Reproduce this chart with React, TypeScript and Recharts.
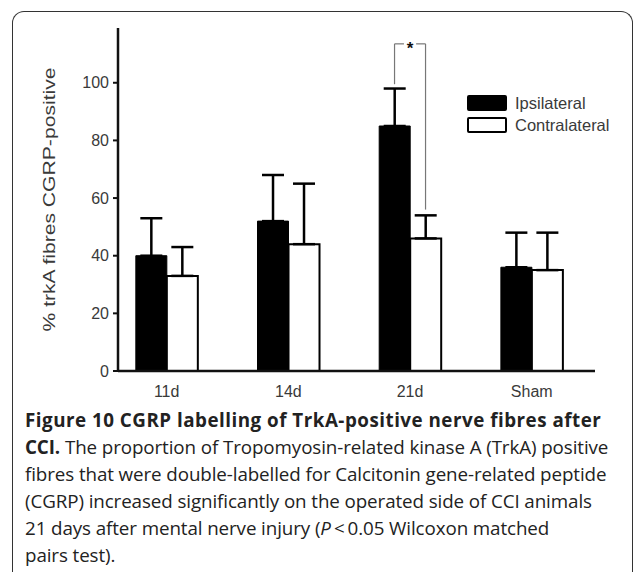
import {
  BarChart,
  Bar,
  XAxis,
  YAxis,
  ErrorBar,
  ReferenceLine,
  ReferenceDot,
} from "recharts";

const groups = ["11d", "14d", "21d", "Sham"];
const ipsilateral = [40, 52, 85, 36];
const ipsilateralErr = [13, 16, 13, 12];
const contralateral = [33, 44, 46, 35];
const contralateralErr = [10, 21, 8, 13];
const yTicks = [0, 20, 40, 60, 80, 100];

// significance bracket over the 21d pair
const sigGroup = 3;
const sigTop = 113.5;

const chartData = groups.map((group, i) => ({
  x: i + 1,
  group,
  ipsi: ipsilateral[i],
  ipsiErr: [0, ipsilateralErr[i]],
  contra: contralateral[i],
  contraErr: [0, contralateralErr[i]],
}));

const W = 635;
const H = 410;
const M = { top: 28, right: 40, bottom: 9, left: 68 };
const Y_AXIS_W = 50;
const X_MIN = 0.6;
const X_MAX = 4.52;
const BAR = 31;
const PLOT_W = W - M.left - M.right - Y_AXIS_W;
const halfBar = BAR / 2 / (PLOT_W / (X_MAX - X_MIN));

const chartFont = "'Liberation Sans', Arial, sans-serif";
const textColor = "#3a3a3a";
const bracketColor = "#777";

const legendItems = [
  { name: "Ipsilateral", bg: "#000" },
  { name: "Contralateral", bg: "#fff" },
];

const LegendBox = () => (
  <div
    style={{
      position: "absolute",
      left: 467,
      top: 92,
      fontFamily: chartFont,
      fontSize: 16.5,
      color: textColor,
      whiteSpace: "nowrap",
    }}
  >
    {legendItems.map((item) => (
      <div
        key={item.name}
        style={{ display: "flex", alignItems: "center", height: 22 }}
      >
        <span
          style={{
            display: "inline-block",
            width: 36,
            height: 12,
            background: item.bg,
            border: "2px solid #000",
            borderRadius: 2,
            marginRight: 8,
          }}
        />
        {item.name}
      </div>
    ))}
  </div>
);

const YLabel = ({ viewBox }: any) => {
  const x = 49;
  const y = viewBox.y + viewBox.height / 2;
  return (
    <text
      x={x}
      y={y}
      transform={`rotate(-90, ${x}, ${y})`}
      textAnchor="middle"
      dominantBaseline="central"
      fill={textColor}
      fontSize={17}
      fontFamily={chartFont}
      textLength={264}
      lengthAdjust="spacingAndGlyphs"
    >
      % trkA fibres CGRP-positive
    </text>
  );
};

const captionStyle: React.CSSProperties = {
  position: "absolute",
  left: 25,
  top: 407,
  fontFamily: "'Open Sans', sans-serif",
  fontSize: 18.8,
  lineHeight: "27px",
  color: "#222",
  whiteSpace: "nowrap",
  letterSpacing: -0.1,
};

const App = () => {
  return (
    <div
      style={{
        position: "absolute",
        left: 0,
        top: 0,
        width: W,
        height: 572,
        background: "#fff",
        overflow: "hidden",
      }}
    >
      <div
        style={{
          position: "absolute",
          left: 12,
          top: 11,
          width: 619,
          height: 620,
          border: "1.5px solid #333",
          borderBottom: "none",
          borderRadius: "12px 12px 0 0",
        }}
      />
      <div style={{ position: "absolute", left: 0, top: 0 }}>
        <BarChart
          width={W}
          height={H}
          data={chartData}
          margin={M}
          barGap={0}
          barSize={BAR}
        >
          <XAxis
            type="number"
            dataKey="x"
            domain={[X_MIN, X_MAX]}
            ticks={[1, 2, 3, 4]}
            allowDataOverflow
            tickFormatter={(v) => groups[v - 1]}
            tickLine={false}
            axisLine={{ stroke: "#111", strokeWidth: 2.5 }}
            tick={{ fill: textColor, fontSize: 16, fontFamily: chartFont, dy: 7 }}
            height={30}
          />
          <YAxis
            domain={[0, 119]}
            ticks={yTicks}
            width={Y_AXIS_W}
            tickSize={5}
            tickMargin={4}
            axisLine={{ stroke: "#111", strokeWidth: 2.5 }}
            tickLine={{ stroke: "#111", strokeWidth: 2 }}
            tick={{ fill: textColor, fontSize: 16, fontFamily: chartFont }}
            label={<YLabel />}
          />
          <Bar
            dataKey="ipsi"
            name="Ipsilateral"
            fill="#000"
            stroke="#000"
            strokeWidth={1}
            isAnimationActive={false}
          >
            <ErrorBar
              dataKey="ipsiErr"
              width={11}
              stroke="#000"
              strokeWidth={2.5}
              isAnimationActive={false}
            />
          </Bar>
          <Bar
            dataKey="contra"
            name="Contralateral"
            fill="#fff"
            stroke="#000"
            strokeWidth={2}
            isAnimationActive={false}
          >
            <ErrorBar
              dataKey="contraErr"
              width={11}
              stroke="#000"
              strokeWidth={2.5}
              isAnimationActive={false}
            />
          </Bar>
          <ReferenceLine
            segment={[
              { x: sigGroup - halfBar, y: ipsilateral[sigGroup - 1] + ipsilateralErr[sigGroup - 1] + 1.5 },
              { x: sigGroup - halfBar, y: sigTop },
            ]}
            stroke={bracketColor}
            strokeWidth={1.2}
          />
          <ReferenceLine
            segment={[
              { x: sigGroup + halfBar, y: contralateral[sigGroup - 1] + contralateralErr[sigGroup - 1] + 2 },
              { x: sigGroup + halfBar, y: sigTop },
            ]}
            stroke={bracketColor}
            strokeWidth={1.2}
          />
          <ReferenceLine
            segment={[
              { x: sigGroup - halfBar, y: sigTop },
              { x: sigGroup - 0.05, y: sigTop },
            ]}
            stroke={bracketColor}
            strokeWidth={1.2}
          />
          <ReferenceLine
            segment={[
              { x: sigGroup + 0.05, y: sigTop },
              { x: sigGroup + halfBar, y: sigTop },
            ]}
            stroke={bracketColor}
            strokeWidth={1.2}
          />
          <ReferenceDot
            x={sigGroup}
            y={sigTop}
            r={0}
            fill="none"
            stroke="none"
            label={{
              value: "*",
              position: "center",
              fill: "#111",
              fontSize: 17,
              fontFamily: chartFont,
              fontWeight: "bold",
              dy: 4,
            }}
          />
        </BarChart>
      </div>
      <LegendBox />
      <div style={captionStyle}>
        <div style={{ fontWeight: 700, letterSpacing: 0.5 }}>
          Figure 10 CGRP labelling of TrkA-positive nerve fibres after
        </div>
        <div>
          <b>CCI.</b> The proportion of Tropomyosin-related kinase A (TrkA) positive
        </div>
        <div>fibres that were double-labelled for Calcitonin gene-related peptide</div>
        <div>(CGRP) increased significantly on the operated side of CCI animals</div>
        <div>
          21 days after mental nerve injury (<i>P</i>&thinsp;&lt;&thinsp;0.05 Wilcoxon matched
        </div>
        <div>pairs test).</div>
      </div>
    </div>
  );
};

export default App;
